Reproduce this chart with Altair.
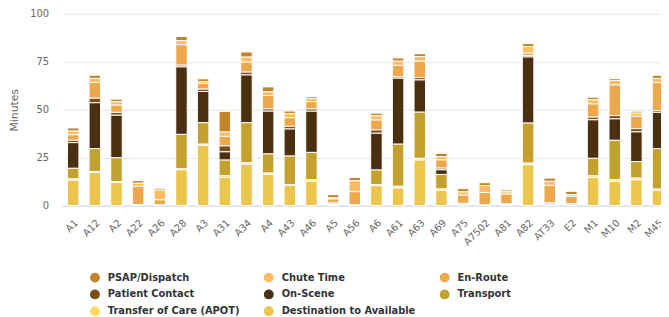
import altair as alt
import pandas as pd

categories = ["A1", "A12", "A2", "A22", "A26", "A28", "A3", "A31", "A34", "A4",
              "A43", "A46", "A5", "A56", "A6", "A61", "A63", "A69", "A75", "A7502",
              "A81", "A82", "AT33", "E2", "M1", "M10", "M2", "M45"]

series_names = ["PSAP/Dispatch", "Chute Time", "En-Route", "Patient Contact",
                "On-Scene", "Transport", "Transfer of Care (APOT)",
                "Destination to Available"]

series_colors = ["#c4842c", "#ffba62", "#efa74c", "#7b4e1b",
                 "#4a2f10", "#c4a02f", "#ffdb66", "#ebc54c"]

# legend is laid out column by column; this order gives the reference's rows
legend_order = [0, 3, 6, 1, 4, 7, 2, 5]

psap = [1.7, 1.7, 1.4, 1.4, 1.0, 2.2, 1.5, 10.8, 2.7, 2.6, 1.4, 1.0, 1.7, 1.7,
        1.4, 1.7, 1.5, 1.7, 1.7, 1.5, 1.0, 1.6, 1.7, 1.7, 1.4, 1.0, 1.0, 1.7]
chute = [1.9, 2.1, 1.7, 1.6, 5.0, 2.1, 1.0, 2.2, 2.6, 1.9, 2.1, 1.7, 0.6, 5.7,
         2.2, 2.2, 2.4, 1.7, 1.7, 3.6, 1.2, 3.4, 2.1, 0.9, 2.1, 2.4, 1.7, 2.2]
en_route = [2.9, 8.2, 3.8, 9.5, 2.7, 10.7, 2.9, 5.0, 5.2, 7.0, 4.5, 3.8, 2.0, 6.9,
            5.2, 6.0, 8.6, 4.3, 4.3, 6.5, 5.0, 1.3, 9.1, 3.8, 6.9, 16.0, 6.4, 14.6]
patient_contact = [1.2, 2.4, 1.5, 0, 0, 0.9, 1.2, 3.1, 1.5, 1.2, 1.4, 1.2, 0.6, 0,
                   1.7, 0.7, 1.2, 0.9, 0.3, 0, 0.3, 0.7, 0.5, 0.4, 1.4, 1.7, 1.7, 0.9]
on_scene = [13.4, 23.9, 22.2, 0, 0, 35.2, 16.3, 4.3, 24.9, 22.3, 14.1, 21.5, 0.4, 0,
            19.2, 34.4, 16.8, 2.4, 0.2, 0, 0, 34.5, 0.6, 0.6, 20.1, 11.2, 15.5, 18.9]
transport = [5.5, 12.0, 12.4, 0, 0, 18.0, 11.2, 8.2, 20.8, 10.0, 15.0, 14.3, 0, 0,
             7.7, 22.0, 24.1, 7.6, 0, 0, 0, 20.9, 0, 0, 9.1, 20.6, 8.6, 21.1]
transfer_of_care = [0.7, 0.5, 0.5, 0.5, 0.3, 0.5, 0.7, 0.9, 0.9, 0.7, 0.3, 0.9, 0.2, 0.3,
                    0.5, 0.9, 0.9, 0.7, 0.3, 0.3, 0.3, 0.9, 0.3, 0, 0.9, 0.9, 0.9, 0.7]
destination = [13.2, 17.2, 12.0, 0, 0, 18.6, 31.3, 14.6, 21.5, 16.2, 10.5, 12.5, 0.2, 0,
               10.3, 9.1, 23.7, 7.9, 0.3, 0, 0.3, 21.2, 0, 0, 14.6, 12.5, 13.4, 7.9]

all_series = [psap, chute, en_route, patient_contact, on_scene, transport,
              transfer_of_care, destination]

rows = []
for s_idx, (name, vals) in enumerate(zip(series_names, all_series)):
    for cat, v in zip(categories, vals):
        rows.append({"Unit": cat, "Series": name, "Minutes": v,
                     "stack_order": len(series_names) - 1 - s_idx})
df = pd.DataFrame(rows)

legend_domain = [series_names[i] for i in legend_order]
legend_range = [series_colors[i] for i in legend_order]

FONT = "DejaVu Sans"

chart = alt.Chart(df).transform_filter(
    alt.datum.Minutes > 0
).mark_bar(stroke="white", strokeWidth=1).encode(
    x=alt.X("Unit:N", sort=categories, title=None,
            scale=alt.Scale(range=[0, 614], paddingInner=0.47, paddingOuter=0.235),
            axis=alt.Axis(labelAngle=-45, labelColor="#666666", labelFontSize=10,
                          labelFont=FONT, labelPadding=12, ticks=False,
                          domainColor="#ccd6eb", domainWidth=1, grid=False)),
    y=alt.Y("Minutes:Q", stack="zero",
            scale=alt.Scale(domain=[0, 100], nice=False),
            axis=alt.Axis(values=[0, 25, 50, 75, 100], labelColor="#666666",
                          labelFontSize=10, labelFont=FONT, labelPadding=14,
                          ticks=False, domain=False, gridColor="#e6e6e6",
                          title="Minutes", titleColor="#666666", titleFontSize=11,
                          titleFont=FONT, titleFontWeight="normal",
                          titleX=-48, titleY=97, titleAlign="center",
                          titleBaseline="middle", titleAngle=-90)),
    color=alt.Color("Series:N",
                    scale=alt.Scale(domain=legend_domain, range=legend_range),
                    legend=alt.Legend(orient="none", legendX=28, legendY=262,
                                      columns=3, title=None, symbolType="circle",
                                      symbolSize=100, symbolStrokeWidth=0,
                                      labelFont=FONT, labelFontWeight="bold",
                                      labelFontSize=10, labelColor="#333333",
                                      labelLimit=300, labelOffset=8,
                                      columnPadding=24, rowPadding=7)),
    order=alt.Order("stack_order:Q", sort="ascending"),
).properties(
    width=606, height=194,
    autosize=alt.AutoSizeParams(type="none"),
    padding={"left": 55, "top": 4, "right": 0, "bottom": 116},
).configure_view(stroke=None)

chart.save("out.html", embed_options={"renderer": "svg", "actions": False})
